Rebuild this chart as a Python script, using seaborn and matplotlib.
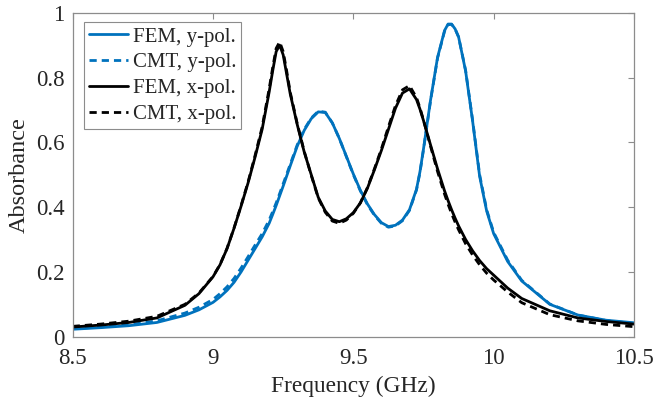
import numpy as np
import pandas as pd
import matplotlib
matplotlib.use('Agg')
import matplotlib.pyplot as plt
import seaborn as sns

# %% Datos
freq = [8.5, 8.6, 8.7, 8.8, 8.9, 8.95, 9.0, 9.025, 9.05, 9.075, 9.1, 9.125,
        9.15, 9.175, 9.2, 9.2125, 9.225, 9.2375, 9.25, 9.2625, 9.275, 9.3,
        9.325, 9.35, 9.375, 9.4, 9.425, 9.45, 9.475, 9.5, 9.525, 9.55, 9.575,
        9.6, 9.625, 9.65, 9.675, 9.7, 9.725, 9.7375, 9.75, 9.775, 9.8, 9.825,
        9.8375, 9.85, 9.8625, 9.875, 9.9, 9.925, 9.95, 9.975, 10.0, 10.05,
        10.1, 10.2, 10.3, 10.4, 10.5]

fem_y = [0.023, 0.028, 0.034, 0.044, 0.066, 0.083, 0.106, 0.123, 0.143, 0.168,
         0.200, 0.236, 0.272, 0.308, 0.350, 0.377, 0.405, 0.435, 0.465, 0.496,
         0.527, 0.588, 0.637, 0.673, 0.694, 0.692, 0.660, 0.612, 0.557, 0.502,
         0.452, 0.410, 0.377, 0.352, 0.340, 0.344, 0.360, 0.392, 0.455, 0.510,
         0.580, 0.730, 0.862, 0.945, 0.965, 0.965, 0.950, 0.925, 0.820, 0.665,
         0.495, 0.388, 0.318, 0.232, 0.172, 0.100, 0.067, 0.051, 0.043]

cmt_y = [0.025, 0.030, 0.037, 0.049, 0.073, 0.091, 0.115, 0.133, 0.154, 0.180,
         0.212, 0.247, 0.283, 0.318, 0.360, 0.386, 0.413, 0.442, 0.472, 0.502,
         0.532, 0.592, 0.640, 0.675, 0.696, 0.693, 0.660, 0.612, 0.556, 0.500,
         0.450, 0.408, 0.375, 0.350, 0.338, 0.342, 0.358, 0.390, 0.453, 0.508,
         0.578, 0.728, 0.860, 0.943, 0.963, 0.964, 0.950, 0.925, 0.822, 0.668,
         0.500, 0.392, 0.322, 0.236, 0.174, 0.101, 0.067, 0.050, 0.041]

fem_x = [0.030, 0.036, 0.044, 0.058, 0.097, 0.133, 0.185, 0.222, 0.272, 0.335,
         0.403, 0.475, 0.555, 0.640, 0.755, 0.820, 0.880, 0.900, 0.870, 0.810,
         0.750, 0.655, 0.570, 0.500, 0.430, 0.388, 0.362, 0.355, 0.364, 0.383,
         0.413, 0.458, 0.515, 0.575, 0.640, 0.705, 0.752, 0.765, 0.732, 0.702,
         0.667, 0.592, 0.518, 0.450, 0.420, 0.392, 0.366, 0.342, 0.300, 0.265,
         0.235, 0.210, 0.190, 0.150, 0.118, 0.080, 0.058, 0.047, 0.039]

cmt_x = [0.032, 0.039, 0.048, 0.063, 0.100, 0.135, 0.186, 0.223, 0.273, 0.336,
         0.405, 0.478, 0.560, 0.647, 0.765, 0.830, 0.890, 0.910, 0.880, 0.820,
         0.755, 0.658, 0.572, 0.498, 0.428, 0.384, 0.357, 0.350, 0.360, 0.381,
         0.413, 0.460, 0.518, 0.580, 0.648, 0.713, 0.762, 0.775, 0.738, 0.706,
         0.668, 0.588, 0.510, 0.440, 0.409, 0.380, 0.354, 0.330, 0.287, 0.252,
         0.222, 0.196, 0.175, 0.138, 0.105, 0.068, 0.049, 0.038, 0.031]

etiquetas = ['FEM, y-pol.', 'CMT, y-pol.', 'FEM, x-pol.', 'CMT, x-pol.']
series = [fem_y, cmt_y, fem_x, cmt_x]
colores = ['#0072BD', '#0072BD', 'black', 'black']
estilos = ['-', '--', '-', '--']

xticks = [8.5, 9, 9.5, 10, 10.5]
xtick_labels = ['8.5', '9', '9.5', '10', '10.5']
yticks = [0, 0.2, 0.4, 0.6, 0.8, 1]
ytick_labels = ['0', '0.2', '0.4', '0.6', '0.8', '1']

# %% Estilo
sns.set_theme(style='white')
plt.rcParams['font.family'] = ['Liberation Serif', 'DejaVu Serif']
plt.rcParams['xtick.direction'] = 'in'
plt.rcParams['ytick.direction'] = 'in'
plt.rcParams['xtick.top'] = True
plt.rcParams['ytick.right'] = True

gris = '#8c8c8c'
texto = '#262626'

fig = plt.figure(figsize=(6.65, 4.01), dpi=100)
ax = fig.add_axes([0.1093, 0.1603, 0.8441, 0.808])

for vals, lab, col, ls in zip(series, etiquetas, colores, estilos):
    df = pd.DataFrame({'Frequency': freq, 'Absorbance': vals})
    sns.lineplot(data=df, x='Frequency', y='Absorbance', ax=ax, color=col,
                 linewidth=2.0, label=lab, errorbar=None)
    line = ax.get_lines()[-1]
    line.set_linestyle(ls)
    line.set_solid_joinstyle('round')
    if ls == '--':
        line.set_dashes((2.6, 1.8))

ax.set_xlim(8.5, 10.5)
ax.set_ylim(0, 1)
ax.set_xticks(xticks)
ax.set_xticklabels(xtick_labels)
ax.set_yticks(yticks)
ax.set_yticklabels(ytick_labels)
ax.tick_params(axis='both', which='both', length=4, width=0.8, color=gris,
               labelsize=16.5, labelcolor=texto, top=True, right=True)
ax.tick_params(axis='x', pad=8)
ax.tick_params(axis='y', pad=6)
for sp in ax.spines.values():
    sp.set_color(gris)
    sp.set_linewidth(0.9)

ax.set_xlabel('Frequency (GHz)', fontsize=16.8, color=texto, labelpad=5)
ax.set_ylabel('Absorbance', fontsize=17.5, color=texto, labelpad=4)

leg = ax.legend(loc='upper left', bbox_to_anchor=(0.012, 0.985),
                fontsize=15, frameon=True, fancybox=False, framealpha=1,
                edgecolor=gris, handlelength=1.9, handletextpad=0.2,
                labelspacing=0.3, borderpad=0.25, borderaxespad=0.2)
leg.get_frame().set_linewidth(0.8)
for t in leg.get_texts():
    t.set_color(texto)

fig.savefig('out.png', dpi=100)
